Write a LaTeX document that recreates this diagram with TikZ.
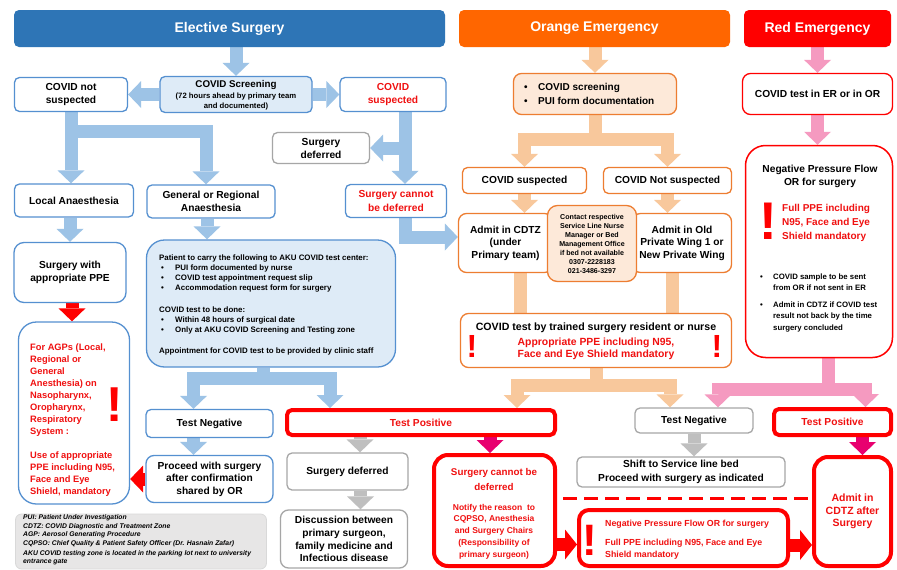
\documentclass[tikz,border=0pt]{standalone}
\usepackage{fontspec}
\setmainfont{Liberation Sans}
\usetikzlibrary{arrows.meta}
\pgfdeclarelayer{bg}
\pgfsetlayers{bg,main}
\newcommand\myfs[2]{\fontsize{#1}{#2}\selectfont}
\newcommand\mybul[1]{\makebox[#1][l]{\textbullet}}
\definecolor{hBlue}{HTML}{2E75B6}
\definecolor{hOrg}{HTML}{FF6600}
\definecolor{hRed}{HTML}{FF0000}
\definecolor{bdB}{HTML}{5590D0}
\definecolor{bdO}{HTML}{ED7D31}
\definecolor{bdG}{HTML}{A6A6A6}
\definecolor{redC}{HTML}{FF0000}
\definecolor{redT}{HTML}{F01010}
\definecolor{fillB}{HTML}{DEEBF7}
\definecolor{fillO}{HTML}{FDE9D9}
\definecolor{legF}{HTML}{E7E6E6}
\definecolor{arB}{HTML}{9DC3E6}
\definecolor{arO}{HTML}{F8C89C}
\definecolor{arP}{HTML}{F59AC0}
\definecolor{arG}{HTML}{BFBFBF}
\definecolor{arM}{HTML}{E8006F}
\definecolor{arR}{HTML}{FF0000}
\begin{document}
\begin{tikzpicture}[x=1pt,y=-1pt,
  bx/.style={draw, rounded corners=5pt, line width=1.3pt, fill=white, align=center, inner sep=1pt, font=\bfseries\myfs{10.2}{13.5}},
  bbx/.style={bx, draw=bdB},
  obx/.style={bx, draw=bdO},
  gbx/.style={bx, draw=bdG},
  rbx/.style={bx, draw=redC, line width=4pt, text=redT},
  hdr/.style={rounded corners=5pt, text=white, inner sep=0pt, font=\bfseries\myfs{14}{16}},
  tx/.style={inner sep=0pt, align=center, font=\bfseries\myfs{10.2}{13.5}},
  wh/.style 2 args={minimum width=#1pt, minimum height=#2pt},
  fa/.style={line width=13pt, -{Triangle[width=27pt,length=13pt,line width=0pt]}},
  faB/.style={fa, draw=arB}, faO/.style={fa, draw=arO}, faP/.style={fa, draw=arP},
  faG/.style={fa, draw=arG}, faM/.style={fa, draw=arM}, faR/.style={fa, draw=arR},
  excl/.style={inner sep=0pt, text=redC, font=\bfseries\myfs{#1}{#1}},
]
\useasboundingbox (0,0) rectangle (897,570);
\begin{pgfonlayer}{bg}
\fill[white] (0,0) rectangle (897,570);
\end{pgfonlayer}

% headers
\node[hdr, fill=hBlue, wh={431}{37}] (hElec) at (229.5,28.5) {Elective Surgery};
\node[hdr, fill=hOrg, wh={271}{37}] (hOrg) at (594.5,28.5) {Orange Emergency};
\node[hdr, fill=hRed, wh={147}{37}] (hRed) at (817.5,28.5) {Red Emergency};

% ---------- Elective ----------
\node[bbx, fill=fillB, wh={152}{36}] (screen) at (236,94.5) {};
\node[tx, font=\bfseries\myfs{9.8}{11}] (screenT) at (236,85) {COVID Screening};
\node[tx, font=\bfseries\myfs{7.7}{10.5}] (screenS) at (236,101.5) {(72 hours ahead by primary team\\and documented)};
\node[bbx, wh={113}{34}] (notsusp) at (71,94.5) {COVID not\\suspected};
\node[bbx, wh={106}{34}, text=redT] (susp) at (393,94.5) {COVID\\suspected};
\node[gbx, wh={97}{31}, font=\bfseries\myfs{10.2}{13}] (deferred1) at (321,148) {Surgery\\deferred};
\node[bbx, wh={119}{33}] (local) at (74,200.5) {Local Anaesthesia};
\node[bbx, wh={128}{33}] (general) at (211,201.5) {General or Regional\\Anaesthesia};
\node[bbx, wh={101}{33}, text=redT] (cannot1) at (396,201) {Surgery cannot\\be deferred};
\node[bbx, wh={112}{60}, rounded corners=10pt] (ppe) at (70,272.5) {Surgery with\\appropriate PPE};
\node[bbx, wh={111}{182}, rounded corners=18pt] (agp) at (74,413) {};
\node[tx, anchor=north west, align=left, text=redT, font=\bfseries\myfs{9.3}{12}] (agpT) at (30,343.5)
 {For AGPs (Local,\\Regional or\\General\\Anesthesia) on\\Nasopharynx,\\Oropharynx,\\Respiratory\\System :\\[12pt]Use of appropriate\\PPE including N95,\\Face and Eye\\Shield, mandatory};
\node[excl=49] (ex1) at (115,404.5) {!};
\node[bbx, fill=fillB, wh={249}{127}, rounded corners=18pt] (patient) at (271,303.5) {};
\node[tx, anchor=north west, align=left, font=\bfseries\myfs{7.9}{10}] (patientT) at (159,254.3)
 {Patient to carry the following to AKU COVID test center:\\
  \hspace*{2pt}\mybul{14pt}PUI form documented by nurse\\
  \hspace*{2pt}\mybul{14pt}COVID test appointment request slip\\
  \hspace*{2pt}\mybul{14pt}Accommodation request form for surgery\\[12pt]
  COVID test to be done:\\
  \hspace*{2pt}\mybul{14pt}Within 48 hours of surgical date\\
  \hspace*{2pt}\mybul{14pt}Only at AKU COVID Screening and Testing zone\\[11pt]
  Appointment for COVID test to be provided by clinic staff};
\node[bbx, wh={127}{28}] (neg1) at (209.5,423.5) {Test Negative};
\node[rbx, wh={268}{25}] (pos1) at (421,422.5) {Test Positive};
\node[bbx, wh={127}{47}, rounded corners=8pt, font=\bfseries\myfs{10.2}{12.5}] (proceed) at (209.5,479) {Proceed with surgery\\after confirmation\\shared by OR};
\node[gbx, wh={121}{37}] (deferred2) at (347.5,471.5) {Surgery deferred};
\node[gbx, wh={127}{58}, rounded corners=8pt, font=\bfseries\myfs{10.2}{12.7}] (discussion) at (344,539) {Discussion between\\primary surgeon,\\family medicine and\\Infectious disease};
\node[bx, draw=black!15, line width=0.8pt, fill=legF, wh={251}{55}, rounded corners=6pt] (legend) at (141,541.5) {};
\node[tx, anchor=north west, align=left, font=\bfseries\itshape\myfs{6.8}{8.6}] (legendT) at (23,514.5)
 {PUI: Patient Under Investigation\\CDTZ: COVID Diagnostic and Treatment Zone\\AGP: Aerosol Generating Procedure\\CQPSO: Chief Quality \& Patient Safety Officer (Dr. Hasnain Zafar)\\[1pt]AKU COVID testing zone is located in the parking lot next to university\\entrance gate};

% ---------- Orange ----------
\node[obx, fill=fillO, wh={163}{41}, rounded corners=8pt] (oscreen) at (595,94) {};
\node[tx, anchor=west, align=left, font=\bfseries\myfs{10}{14}] (oscreenT) at (524,94) {\mybul{14pt}COVID screening\\\mybul{14pt}PUI form documentation};
\node[obx, wh={124}{26}] (osusp) at (524.5,180.5) {COVID suspected};
\node[obx, wh={128}{26}] (onotsusp) at (667.5,180.5) {COVID Not suspected};
\node[obx, wh={94}{59}, rounded corners=8pt, font=\bfseries\myfs{10.2}{12.5}] (admitCDTZ) at (505.5,243) {Admit in CDTZ\\(under\\Primary team)};
\node[obx, wh={99}{59}, rounded corners=8pt, font=\bfseries\myfs{10.2}{12.5}] (oldwing) at (682,243) {Admit in Old\\Private Wing 1 or\\New Private Wing};
\node[obx, fill=fillO, wh={89}{76}, rounded corners=10pt, font=\bfseries\myfs{7.1}{9}] (contact) at (592,243.5) {Contact respective\\Service Line Nurse\\Manager or Bed\\Management Office\\if bed not available\\0307-2228183\\021-3486-3297};
\node[obx, wh={271}{54}, rounded corners=8pt] (otest) at (596,340.5) {};
\node[tx, font=\bfseries\myfs{10.6}{12}] (otestT) at (596,328) {COVID test by trained surgery resident or nurse};
\node[tx, text=redT, font=\bfseries\myfs{10.4}{12}] (otestR) at (596,348.5) {Appropriate PPE including N95,\\Face and Eye Shield mandatory};
\node[excl=32] (ex2) at (472,346.5) {!};
\node[excl=32] (ex3) at (717,346.5) {!};

% ---------- Red ----------
\node[bx, draw=redC, wh={150}{41}, rounded corners=8pt] (rtest) at (817.5,94) {COVID test in ER or in OR};
\node[bx, draw=redC, line width=1.5pt, wh={147}{212}, rounded corners=20pt] (npf1) at (819,251.5) {};
\node[tx, font=\bfseries\myfs{10.2}{13}] (npf1T) at (820,176.5) {Negative Pressure Flow\\OR for surgery};
\node[excl=53] (ex4) at (768,221) {!};
\node[tx, anchor=west, align=left, text=redT, font=\bfseries\myfs{10}{14}] (npf1R) at (782,223) {Full PPE including\\N95, Face and Eye\\Shield mandatory};
\node[tx, anchor=north west, align=left, font=\bfseries\myfs{7.8}{11.5}] (npf1B) at (760,273.5)
 {\mybul{13pt}COVID sample to be sent\\\hspace*{13pt}from OR if not sent in ER\\[5pt]\mybul{13pt}Admit in CDTZ if COVID test\\\hspace*{13pt}result not back by the time\\\hspace*{13pt}surgery concluded};

% ---------- bottom right ----------
\node[gbx, wh={118}{25}] (negR) at (694,420.5) {Test Negative};
\node[rbx, wh={117}{26}] (posR) at (832.5,422) {Test Positive};
\node[gbx, wh={208}{30}, font=\bfseries\myfs{10.2}{14}] (shift) at (681,472) {Shift to Service line bed\\Proceed with surgery as indicated};
\node[rbx, wh={121}{111}, rounded corners=14pt] (cannot2) at (494.5,510.5) {};
\node[tx, text=redT, font=\bfseries\myfs{9.8}{15}] (cannot2T) at (494,479.5) {Surgery cannot be\\deferred};
\node[tx, text=redT, font=\bfseries\myfs{8.5}{11.7}] (cannot2N) at (494,531.5) {Notify the reason \ to\\CQPSO, Anesthesia\\and Surgery Chairs\\(Responsibility of\\primary surgeon)};
\node[rbx, wh={209}{56}, rounded corners=10pt] (npf2) at (683.5,538) {};
\node[excl=44] (ex5) at (590,540) {!};
\node[tx, anchor=west, align=left, text=redT, font=\bfseries\myfs{8.8}{12}] (npf2T) at (605,524)
 {Negative Pressure Flow OR for surgery};
\node[tx, anchor=west, align=left, text=redT, font=\bfseries\myfs{8.8}{12}] (npf2R) at (605,549.5)
 {Full PPE including N95, Face and Eye\\Shield mandatory};
\node[rbx, wh={77}{109}, rounded corners=14pt, font=\bfseries\myfs{10.5}{12.5}] (admitAfter) at (852.5,511.5) {Admit in\\CDTZ after\\Surgery};

\coordinate (dL) at (563,498);
\coordinate (dR) at (808,498);
\draw[redC, line width=3pt, dash pattern=on 14pt off 7pt] (dL) -- (dR);

% ---------- arrows ----------
\begin{pgfonlayer}{bg}
\draw[faB] (screen.north |- hElec.south) -- (screen.north);
\draw[faO] (oscreen.north |- hOrg.south) -- (oscreen.north);
\draw[faP] (rtest.north |- hRed.south) -- (rtest.north);
\draw[faB] (screen.west) -- (screen.west -| notsusp.east);
\draw[faB] (screen.east) -- (screen.east -| susp.west);
\draw[faB] (notsusp.south) -- (notsusp.south |- local.north);
\draw[faB] (notsusp.south) -- ++(0,19) -| ([xshift=-5pt]general.north);
\draw[faB] ([xshift=12pt]susp.south) -- ([xshift=12pt]susp.south |- cannot1.north);
\draw[faB] ([xshift=12pt]susp.south |- deferred1.east) -- (deferred1.east);
\draw[faB] ([xshift=9pt]cannot1.south) |- ([yshift=6pt]admitCDTZ.west);
\draw[faB] (ppe.north |- local.south) -- (ppe.north);
\draw[faB] ([xshift=-4pt]general.south) -- ([xshift=-4pt]general.south |- patient.north);
\draw[faR] ([xshift=2pt]ppe.south) -- ([xshift=2pt]ppe.south |- agp.north);
\draw[faB] ([xshift=-8pt]patient.south) -- ++(0,11) -| ([xshift=-16pt]neg1.north);
\draw[faB] ([xshift=-8pt]patient.south) -- ++(0,11) -| ([xshift=-91pt]pos1.north);
\draw[faB] ([xshift=-16pt]neg1.south) -- ([xshift=-16pt]proceed.north);
\draw[faR] (proceed.west) -- (proceed.west -| agp.east);
\draw[faG] ([xshift=-61pt]pos1.south) -- ([xshift=-61pt]pos1.south |- deferred2.north);
\draw[faG] ([xshift=13pt]deferred2.south) -- ([xshift=13pt]deferred2.south |- discussion.north);
\draw[faM] ([xshift=69pt]pos1.south) -- ([xshift=69pt]pos1.south |- cannot2.north);
\draw[faO] (oscreen.south) -- ++(0,24) -| (osusp.north);
\draw[faO] (oscreen.south) -- ++(0,24) -| (onotsusp.north);
\draw[faO] (osusp.south) -- (osusp.south |- admitCDTZ.north);
\draw[faO] (onotsusp.south) -- (onotsusp.south |- oldwing.north);
\draw[faO] ([xshift=15pt]admitCDTZ.south) |- ([yshift=-18pt]otest.north) -- (otest.north);
\draw[faO] ([xshift=-10pt]oldwing.south) |- ([yshift=-18pt]otest.north) -- (otest.north);
\draw[faO] (otest.south) -- ++(0,17) -| ([xshift=96pt]pos1.north);
\draw[faO] (otest.south) -- ++(0,17) -| ([xshift=-24pt]negR.north);
\draw[faP] (rtest.south) -- (rtest.south |- npf1.north);
\draw[faP] ([xshift=9pt]npf1.south) -- ++(0,31) -| ([xshift=24pt]negR.north);
\draw[faP] ([xshift=9pt]npf1.south) -- ++(0,31) -| ([xshift=33pt]posR.north);
\draw[faG] (negR.south) -- (negR.south |- shift.north);
\draw[faM] ([xshift=10pt]admitAfter.north |- posR.south) -- ([xshift=10pt]admitAfter.north);
\draw[faR, -{Triangle[width=30pt,length=12pt,line width=0pt]}] ([yshift=-34pt]cannot2.east) -- ([yshift=-34pt]cannot2.east -| npf2.west);
\draw[faR, -{Triangle[width=30pt,length=12pt,line width=0pt]}] ([yshift=-7pt]npf2.east) -- ([yshift=-7pt]npf2.east -| admitAfter.west);
\end{pgfonlayer}
\end{tikzpicture}
\end{document}
